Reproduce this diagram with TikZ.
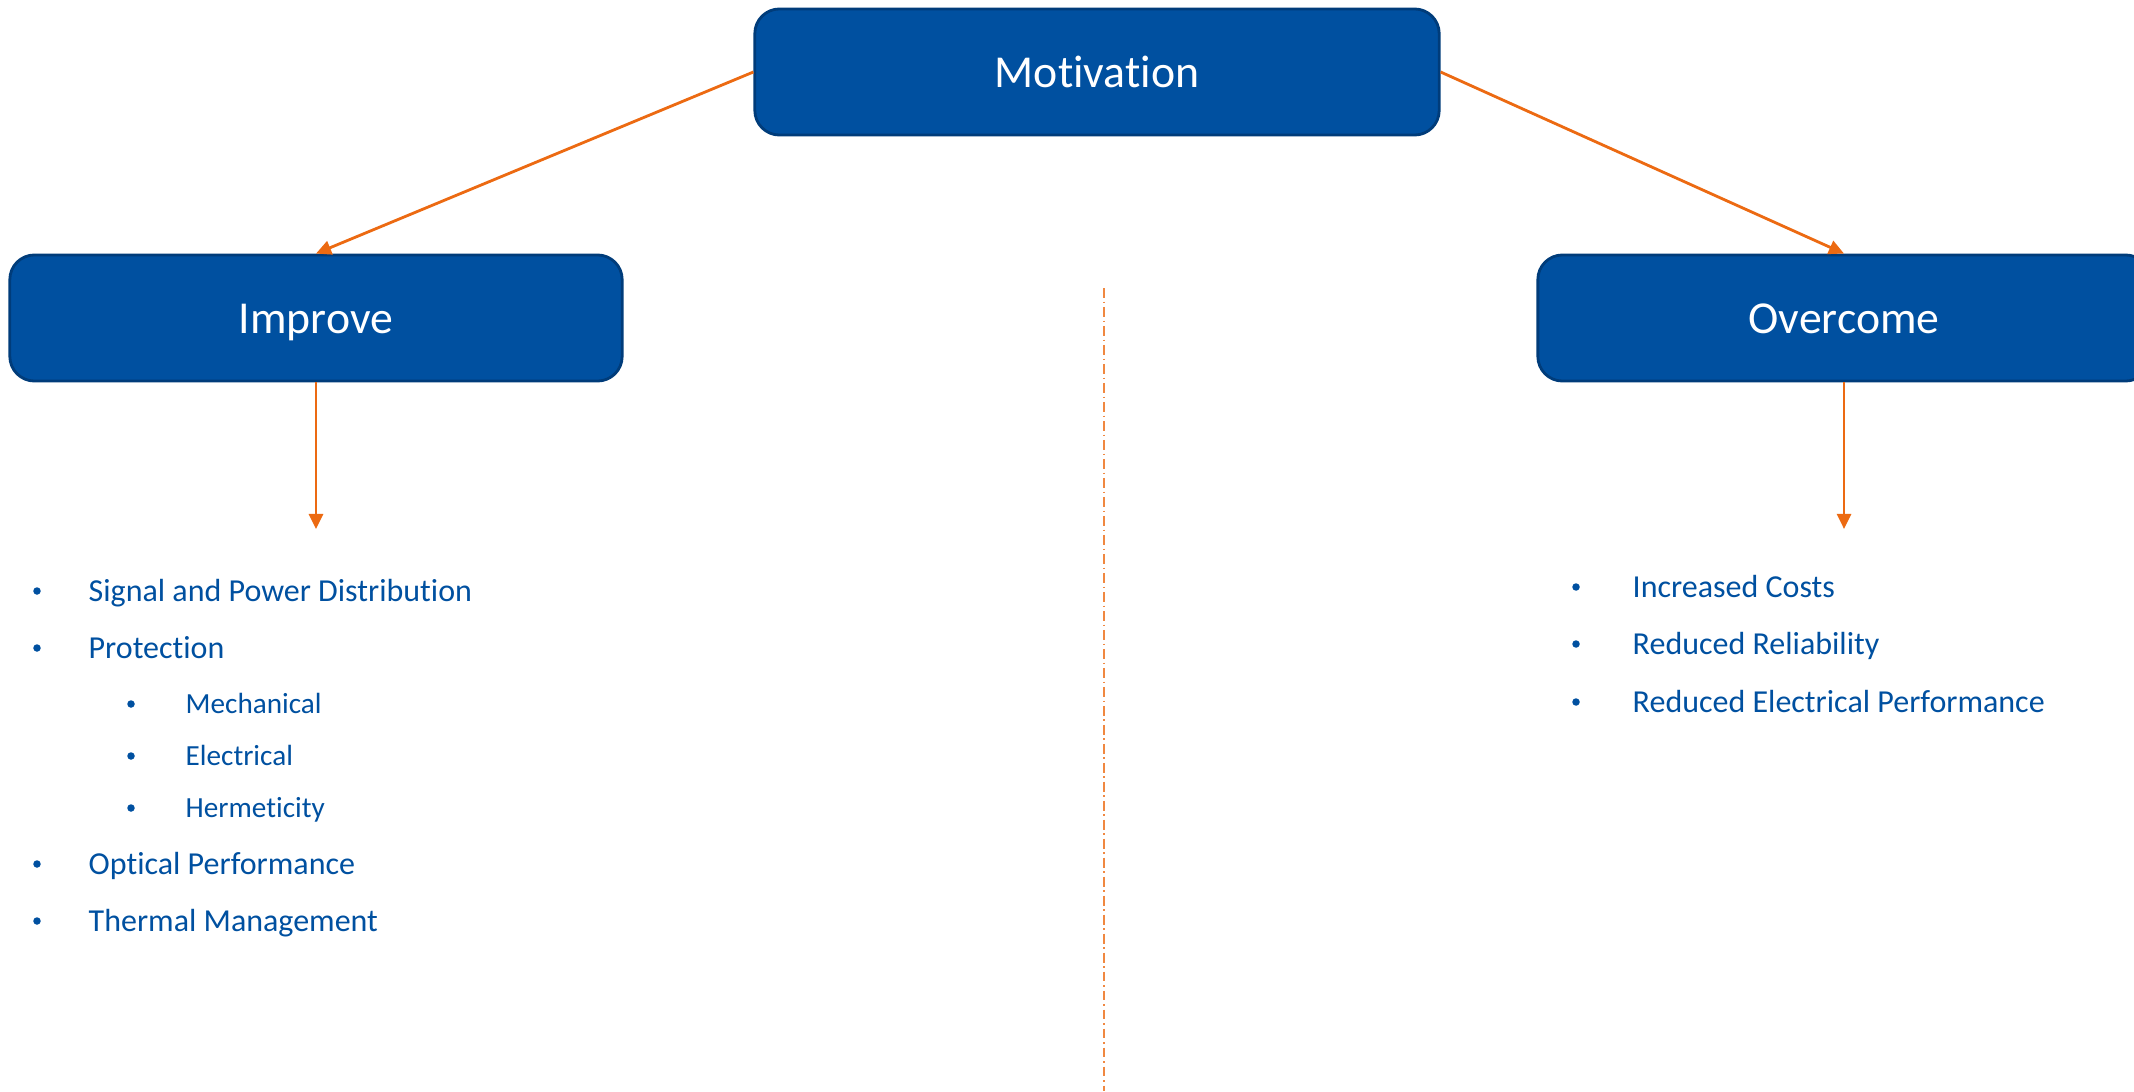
\documentclass[tikz,border=0pt]{standalone}
\usepackage{fontspec}
\setmainfont{Carlito}[Ligatures=NoCommon]
\usetikzlibrary{arrows.meta}
\definecolor{boxblue}{HTML}{0050A0}
\definecolor{boxedge}{HTML}{003C7A}
\definecolor{linkorange}{HTML}{EC6A12}
\definecolor{textblue}{HTML}{0050A0}
\begin{document}
\begin{tikzpicture}[
        x=0.01cm, y=-0.01cm,
        every node/.style={inner sep=0pt},
        topbox/.style={draw=boxedge, line width=0.8pt, fill=boxblue, rounded corners=7pt, minimum height=1.26cm, text height=0.88em, text depth=0pt, text=white, font=\fontsize{13}{15}\selectfont},
        entry/.style={anchor=base west, text=textblue, font=\fontsize{9.1}{11}\selectfont},
        subentry/.style={entry, font=\fontsize{8.3}{10}\selectfont},
        dot/.style={circle, fill=textblue, minimum size=0.075cm},
        link/.style={-{Triangle[length=4.3pt, width=4pt]}, line width=0.8pt, linkorange}
    ]
        \useasboundingbox (0,0) rectangle (2134,1091);

        % Boxes
        \node[topbox, minimum width=6.84cm] (motiv) at (1097,72) {Motivation};
        \node[topbox, minimum width=6.12cm] (impr) at (316,318) {Improve};
        \node[topbox, minimum width=6.12cm] (over) at (1844,318) {Overcome};

        % Ends of the down arrows
        \coordinate (imprend) at (316,529);
        \coordinate (overend) at (1844,529);

        % Arrows
        \draw[link] (motiv.west) -- (impr.north);
        \draw[link] (motiv.east) -- (over.north);
        \draw[link] (impr.south) -- (imprend);
        \draw[link] (over.south) -- (overend);

        % Divider
        \coordinate (divtop) at (1104,288);
        \coordinate (divbot) at (1104,1091);
        \draw[linkorange!80, line width=0.4pt, dash pattern=on 2.8pt off 1.1pt on 0.4pt off 1.1pt] (divtop) -- (divbot);

        % Left list
        \node[dot] (d1) at (37,591) {};
        \node[entry] (sig) at (88,601) {Signal and Power Distribution};
        \node[dot] (d2) at (37,648) {};
        \node[entry] (prot) at (88,658) {Protection};
        \node[dot] (d3) at (131,704) {};
        \node[subentry] (mech) at (185,713) {Mechanical};
        \node[dot] (d4) at (131,756) {};
        \node[subentry] (elec) at (185,765) {Electrical};
        \node[dot] (d5) at (131,808) {};
        \node[subentry] (herm) at (185,817) {Hermeticity};
        \node[dot] (d6) at (37,864) {};
        \node[entry] (opt) at (88,874) {Optical Performance};
        \node[dot] (d7) at (37,921) {};
        \node[entry] (therm) at (88,931) {Thermal Management};

        % Right list
        \node[dot] (d8) at (1576,587) {};
        \node[entry] (cost) at (1632,597) {Increased Costs};
        \node[dot] (d9) at (1576,644) {};
        \node[entry] (rel) at (1632,654) {Reduced Reliability};
        \node[dot] (d10) at (1576,702) {};
        \node[entry] (perf) at (1632,712) {Reduced Electrical Performance};

    \end{tikzpicture}
\end{document}
